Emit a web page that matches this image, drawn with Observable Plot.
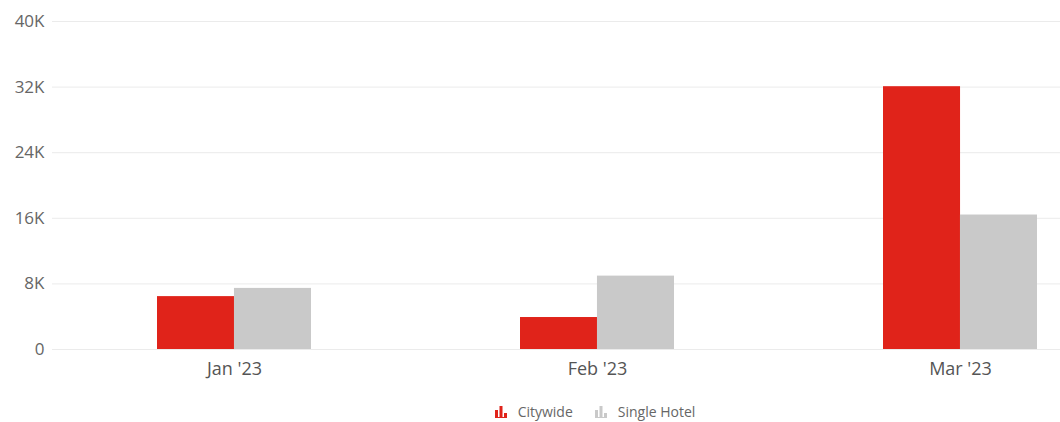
<!DOCTYPE html>
<html>
<head>
<meta charset="utf-8">
<script src="https://cdn.jsdelivr.net/npm/d3@7"></script>
<script src="https://cdn.jsdelivr.net/npm/@observablehq/plot@0.6"></script>
<style>
  html, body { margin: 0; padding: 0; background: #fff; }
  body { width: 1060px; height: 422px; overflow: hidden; font-family: "Open Sans", sans-serif; }
  #legend { display: flex; justify-content: center; align-items: center; gap: 22px; padding-left: 130px; padding-top: 4px; height: 30px; font-size: 14px; color: #666; }
  .item { display: flex; align-items: center; gap: 11px; }
</style>
</head>
<body>
<div id="chart"></div>
<div id="legend"></div>
<script>
const months = ["Jan '23", "Feb '23", "Mar '23"];
const citywide = [6450, 3900, 32050];
const singleHotel = [7450, 8950, 16400];
const seriesNames = ["Citywide", "Single Hotel"];
const seriesColors = ["#e0231a", "#c9c9c9"];
const yTicks = [0, 8000, 16000, 24000, 32000, 40000];
const yTickLabels = ["0", "8K", "16K", "24K", "32K", "40K"];

const data = [];
months.forEach((m, i) => {
  data.push({month: m, series: seriesNames[0], value: citywide[i]});
  data.push({month: m, series: seriesNames[1], value: singleHotel[i]});
});

const W = 1060, H = 392, mL = 52, mR = 0, mT = 21, mB = 43;
const xPadding = 0.576;
const xRange = [52.5, 1141.5];
const bandwidth = (xRange[1] - xRange[0]) / months.length * (1 - xPadding);
const half = bandwidth / 2;

const chart = Plot.plot({
  width: W, height: H,
  marginLeft: mL, marginRight: mR, marginTop: mT, marginBottom: mB,
  style: {fontFamily: "'Open Sans', sans-serif", background: "#fff"},
  x: {domain: months, range: xRange, paddingInner: xPadding, paddingOuter: xPadding / 2, align: 0.5, label: null},
  y: {domain: [0, 40000], label: null},
  color: {domain: seriesNames, range: seriesColors},
  marks: [
    Plot.ruleY(yTicks, {stroke: "#ebebeb", strokeWidth: 1}),
    Plot.barY(data.filter(d => d.series === seriesNames[0]), {x: "month", y: "value", fill: "series", insetRight: half}),
    Plot.barY(data.filter(d => d.series === seriesNames[1]), {x: "month", y: "value", fill: "series", insetLeft: half}),
    Plot.axisY({ticks: yTicks, tickFormat: (d) => yTickLabels[yTicks.indexOf(d)], tickSize: 0, tickPadding: 8, fontSize: 17, fill: "#666", label: null}),
    Plot.axisX({tickSize: 0, tickPadding: 13, fontSize: 18, fill: "#555", label: null})
  ]
});
document.getElementById("chart").appendChild(chart);

const legend = document.getElementById("legend");
seriesNames.forEach((name, i) => {
  const item = document.createElement("div");
  item.className = "item";
  const c = seriesColors[i];
  item.innerHTML = `<svg width="12" height="13" viewBox="0 0 12 13">
    <rect x="0" y="5" width="3" height="7" fill="${c}"/>
    <rect x="4.5" y="1" width="3" height="11" fill="${c}"/>
    <rect x="9" y="8" width="3" height="4" fill="${c}"/>
    <rect x="0" y="12" width="12" height="1" fill="${c}"/>
  </svg><span>${name}</span>`;
  legend.appendChild(item);
});
</script>
</body>
</html>
